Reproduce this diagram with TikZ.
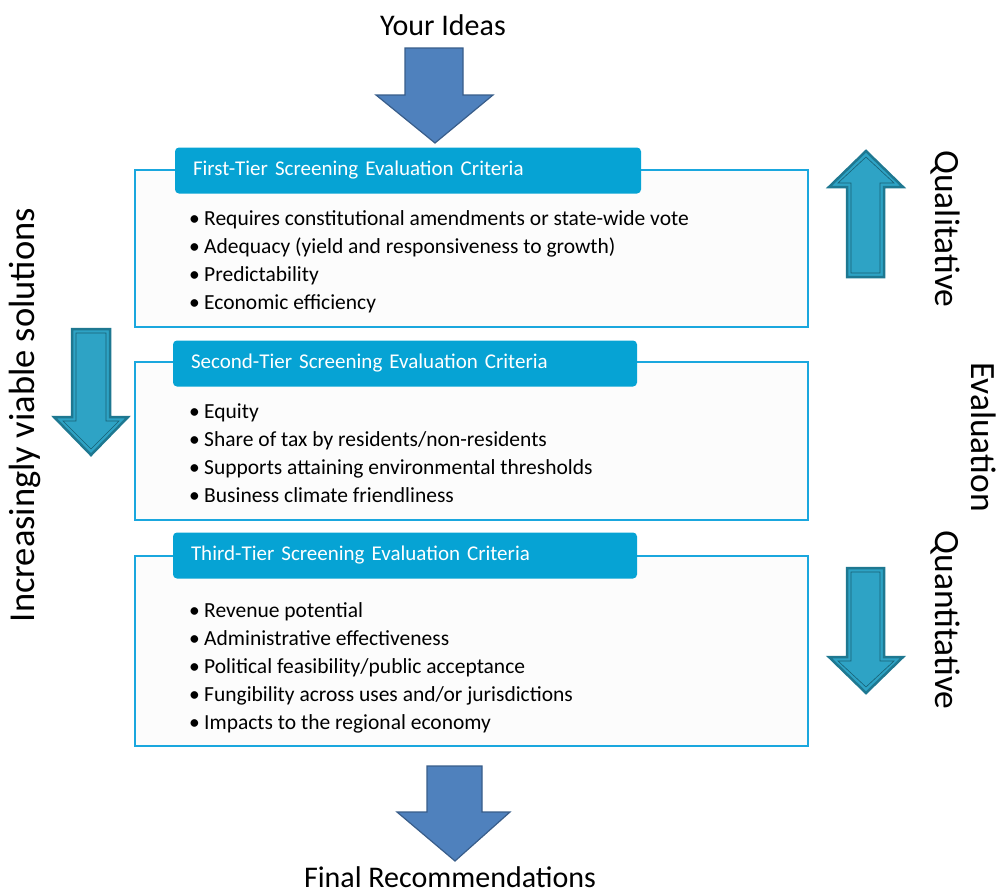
\documentclass[tikz,border=0pt]{standalone}
\usepackage{fontspec}
\setmainfont{Carlito}
\definecolor{bluefill}{RGB}{79,129,189}
\definecolor{blueline}{RGB}{56,93,138}
\definecolor{tealfill}{RGB}{46,163,197}
\definecolor{tealline}{RGB}{30,120,145}
\definecolor{boxline}{RGB}{26,167,222}
\definecolor{headfill}{RGB}{6,163,212}
\definecolor{boxfill}{RGB}{252,252,252}
\begin{document}
\begin{tikzpicture}[x=1pt,y=-1pt,
  bigarrow/.style={fill=bluefill,draw=blueline,line width=1.2pt,line join=miter},
  tealarrow/.style={fill=tealfill,draw=tealline,line width=2.5pt,line join=miter},
  tealinner/.style={draw=tealline!80!black,line width=0.6pt,line join=miter},
  tierbox/.style={draw=boxline,line width=1.6pt,fill=boxfill},
  tierhead/.style={fill=headfill,rounded corners=4pt,text=white,inner xsep=18pt,inner ysep=0pt,
     minimum height=46pt,text width=430pt,align=left,font=\fontsize{21}{24}\selectfont},
  bulletitem/.style={anchor=base west,inner sep=0pt,font=\fontsize{21.5}{26}\selectfont},
  bigtext/.style={font=\fontsize{30}{34}\selectfont,inner sep=0pt},
  sidetext/.style={font=\fontsize{35.5}{40}\selectfont,inner sep=0pt}]
\useasboundingbox (0,0) rectangle (997,894);

% titles
\node[bigtext] (ideas) at (443,25) {Your Ideas};
\node[bigtext,anchor=base] (final) at (450,887) {Final Recommendations};

% top and bottom blue arrows
\draw[bigarrow] (405,48) -- (463,48) -- (463,95) -- (493,95) -- (435,143) -- (376,95) -- (405,95) -- cycle;
\draw[bigarrow] (427,766) -- (482,766) -- (482,812) -- (510,812) -- (455,861) -- (397,812) -- (427,812) -- cycle;

% tier boxes
\draw[tierbox] (135,170) rectangle (808,327);
\node[tierhead] (h1) at (408,170.5) {First-Tier Screening Evaluation Criteria};
\foreach \t [count=\i] in {Requires constitutional amendments or state-wide vote,
  Adequacy (yield and responsiveness to growth), Predictability, Economic efficiency}
  \node[bulletitem] (b1-\i) at (189,{225+28*(\i-1)}) {\makebox[15pt][l]{•}\t};

\draw[tierbox] (135,362) rectangle (808,520);
\node[tierhead,minimum width=464pt,text width=428pt] (h2) at (405,363.5) {Second-Tier Screening Evaluation Criteria};
\foreach \t [count=\i] in {Equity, Share of tax by residents/non-residents,
  Supports attaining environmental thresholds, Business climate friendliness}
  \node[bulletitem] (b2-\i) at (189,{418+28*(\i-1)}) {\makebox[15pt][l]{•}\t};

\draw[tierbox] (135,556) rectangle (808,746);
\node[tierhead,minimum width=464pt,text width=428pt] (h3) at (405,555.5) {Third-Tier Screening Evaluation Criteria};
\foreach \t [count=\i] in {Revenue potential, Administrative effectiveness,
  Political feasibility/public acceptance, Fungibility across uses and/or jurisdictions,
  Impacts to the regional economy}
  \node[bulletitem] (b3-\i) at (189,{617+28*(\i-1)}) {\makebox[15pt][l]{•}\t};

% left teal arrow (down)
\draw[tealarrow] (72,329) -- (110,329) -- (110,417) -- (128,417) -- (91,455) -- (54,417) -- (72,417) -- cycle;
\draw[tealinner] (76,333) -- (106,333) -- (106,421) -- (119,421) -- (91,449) -- (63,421) -- (76,421) -- cycle;
\node[sidetext,rotate=90,font=\fontsize{36.5}{40}\selectfont] (viable) at (25,415) {Increasingly viable solutions};

% right up arrow
\draw[tealarrow] (847,277) -- (884,277) -- (884,187) -- (903,187) -- (866,151) -- (829,187) -- (847,187) -- cycle;
\draw[tealinner] (851,273) -- (880,273) -- (880,183) -- (894,183) -- (866,157) -- (838,183) -- (851,183) -- cycle;
\node[sidetext,rotate=-90] (quali) at (945,229) {Qualitative};

\node[sidetext,rotate=-90] (evalu) at (984,437) {Evaluation};

% right down arrow
\draw[tealarrow] (847,568) -- (884,568) -- (884,657) -- (903,657) -- (866,693) -- (829,657) -- (847,657) -- cycle;
\draw[tealinner] (851,572) -- (880,572) -- (880,661) -- (894,661) -- (866,687) -- (838,661) -- (851,661) -- cycle;
\node[sidetext,rotate=-90] (quanti) at (945,620) {Quantitative};
\end{tikzpicture}
\end{document}
